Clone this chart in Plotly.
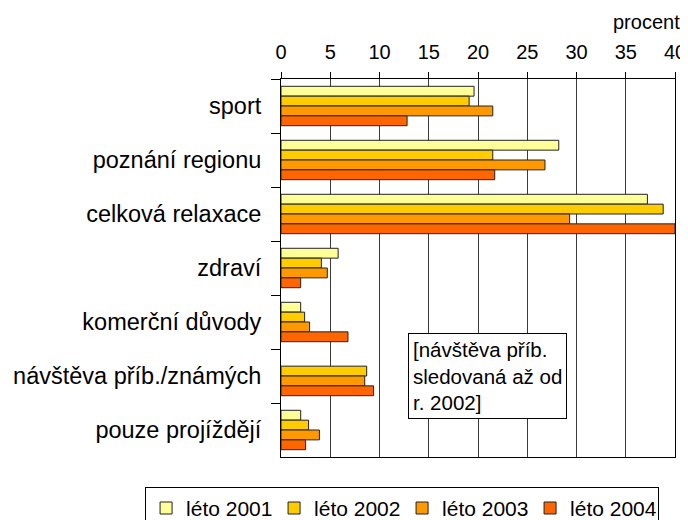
import plotly.graph_objects as go

categories = ["sport", "poznání regionu", "celková relaxace", "zdraví",
              "komerční důvody", "návštěva příb./známých", "pouze projíždějí"]
series_names = ["léto 2001", "léto 2002", "léto 2003", "léto 2004"]
leto_2001 = [19.6, 28.2, 37.2, 5.8, 2.0, None, 2.0]
leto_2002 = [19.1, 21.5, 38.8, 4.1, 2.4, 8.7, 2.8]
leto_2003 = [21.5, 26.8, 29.3, 4.7, 2.9, 8.5, 3.9]
leto_2004 = [12.8, 21.7, 40.0, 2.0, 6.8, 9.4, 2.5]
colors = ["#FFFF99", "#FFCC00", "#FF9900", "#FF6600"]
x_ticks = [0, 5, 10, 15, 20, 25, 30, 35, 40]

FONT = "Liberation Sans, Arial, sans-serif"

fig = go.Figure()
for name, vals, col in zip(series_names, [leto_2001, leto_2002, leto_2003, leto_2004], colors):
    fig.add_trace(go.Bar(
        y=categories, x=vals, name=name, orientation="h",
        marker=dict(color=col, line=dict(color="#222222", width=1)),
    ))

# the page body has an 8px margin, so the figure is sized to end at the window edge
fig.update_layout(
    width=680, height=512,
    margin=dict(l=273, r=13, t=71, b=63, autoexpand=False),
    paper_bgcolor="white", plot_bgcolor="white",
    barmode="group", bargap=0.27, bargroupgap=0,
    font=dict(family=FONT, color="black", size=20),
    showlegend=True,
    legend=dict(
        orientation="h", x=-0.345, xanchor="left", y=-0.079, yanchor="top",
        bordercolor="black", borderwidth=1, bgcolor="white",
        font=dict(size=21, family=FONT), traceorder="normal",
        entrywidth=83, entrywidthmode="pixels",
    ),
    xaxis=dict(
        side="top", range=[0, 40], tickvals=x_ticks, ticktext=[str(v) for v in x_ticks],
        showgrid=True, gridcolor="#3a3a3a", gridwidth=1,
        showline=True, linecolor="black", linewidth=1, mirror=True,
        ticks="outside", ticklen=6, tickcolor="black",
        tickfont=dict(size=20), ticklabelstandoff=5, zeroline=False,
    ),
    yaxis=dict(
        autorange="reversed", type="category",
        showline=True, linecolor="black", linewidth=1, mirror=True,
        ticks="outside", ticklen=9, tickcolor="black", tickson="boundaries",
        tickfont=dict(size=23.5), ticklabelstandoff=14, showgrid=False,
    ),
    annotations=[
        dict(text="procent", xref="paper", yref="paper", x=1.0178, y=1.151,
             xanchor="right", yanchor="middle", showarrow=False,
             font=dict(size=20, family=FONT)),
        dict(text="[návštěva příb.<br>sledovaná až od<br>r. 2002]",
             xref="x", yref="paper", x=12.9, y=0.328, xanchor="left", yanchor="top",
             align="left", showarrow=False, bordercolor="black", borderwidth=1,
             borderpad=4, bgcolor="white", font=dict(size=20.5, family=FONT)),
        dict(text="Účel návštěvy regionu", xref="paper", yref="paper",
             x=0.2173, y=1.2476, xanchor="center", yanchor="middle",
             showarrow=False, font=dict(size=29, family=FONT)),
    ],
)

fig.write_html("out.html")
